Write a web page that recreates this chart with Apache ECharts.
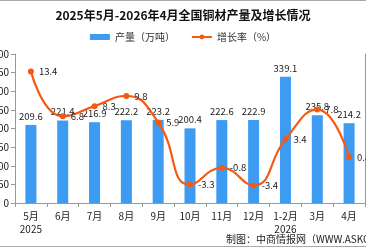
<!DOCTYPE html>
<html><head><meta charset="utf-8">
<script src="https://cdn.jsdelivr.net/npm/echarts@6/dist/echarts.min.js"></script>
<style>html,body{margin:0;padding:0;background:#fff}#c{width:366px;height:248px}</style>
</head><body><div id="c"></div>
<script>
var categories = ['5月\n2025','6月','7月','8月','9月','10月','11月','12月','1-2月\n2026','3月','4月'];
var production = [209.6,221.4,216.9,222.2,223.2,200.4,222.6,222.9,339.1,235.8,214.2];
var growth = [13.4,6.8,8.3,9.8,5.9,-3.3,-0.8,-3.4,3.4,7.8,0.8];
var leftTicks = {min:0, max:400, interval:50};
var rightTicks = {min:-6, max:16, interval:2.75};

var F = '"Noto Sans CJK SC", sans-serif';
var chart = echarts.init(document.getElementById('c'), null, {renderer:'canvas'});
chart.setOption({
  animation:false,
  textStyle:{fontFamily:F},
  title:{text:'2025年5月-2026年4月全国铜材产量及增长情况',left:'center',top:4,
    textStyle:{fontSize:12,fontWeight:'bold',color:'#111',fontFamily:F}},
  legend:{top:27,left:'center',itemGap:16,itemWidth:20,itemHeight:6,
    textStyle:{fontSize:10,color:'#333',fontFamily:F},
    data:[{name:'产量（万吨）',icon:'rect'},{name:'增长率（%）'}]},
  grid:{left:15,right:1,top:54,bottom:45,containLabel:false,outerBoundsMode:'none'},
  xAxis:{type:'category',data:categories,
    axisLine:{lineStyle:{color:'#999'}},
    axisTick:{show:true,alignWithLabel:false,length:4,lineStyle:{color:'#999'}},
    axisLabel:{fontSize:10,color:'#222',margin:7,lineHeight:13,interval:0}},
  yAxis:[
    {type:'value',min:leftTicks.min,max:leftTicks.max,interval:leftTicks.interval,
     splitLine:{show:false},axisLine:{show:true,lineStyle:{color:'#999'}},
     axisTick:{show:true,length:4,lineStyle:{color:'#999'}},
     axisLabel:{fontSize:10,color:'#222',margin:6}},
    {type:'value',min:rightTicks.min,max:rightTicks.max,interval:rightTicks.interval,
     splitLine:{show:false},axisLine:{show:true,lineStyle:{color:'#999'}},
     axisTick:{show:false},axisLabel:{show:false}}
  ],
  series:[
    {name:'产量（万吨）',type:'bar',data:production,barWidth:11,
     itemStyle:{color:'#3d9bf2'},
     label:{show:true,position:'top',fontSize:9.5,color:'#222',distance:4}},
    {name:'增长率（%）',type:'line',yAxisIndex:1,data:growth,smooth:true,
     symbol:'circle',symbolSize:6,
     lineStyle:{color:'#f55a14',width:2.2},itemStyle:{color:'#f55a14'},
     label:{show:true,position:'right',fontSize:9.5,color:'#222',distance:5}}
  ],
  graphic:[
    {type:'line',shape:{x1:0,y1:0.5,x2:366,y2:0.5},style:{stroke:'#aaa',lineWidth:1}},
    {type:'line',shape:{x1:0,y1:246.5,x2:366,y2:246.5},style:{stroke:'#aaa',lineWidth:1}},
    {type:'text',left:226,top:234,style:{text:'制图：中商情报网（WWW.ASKCI.COM）',fontSize:10,fill:'#222',fontFamily:F}}
  ]
});
</script></body></html>
